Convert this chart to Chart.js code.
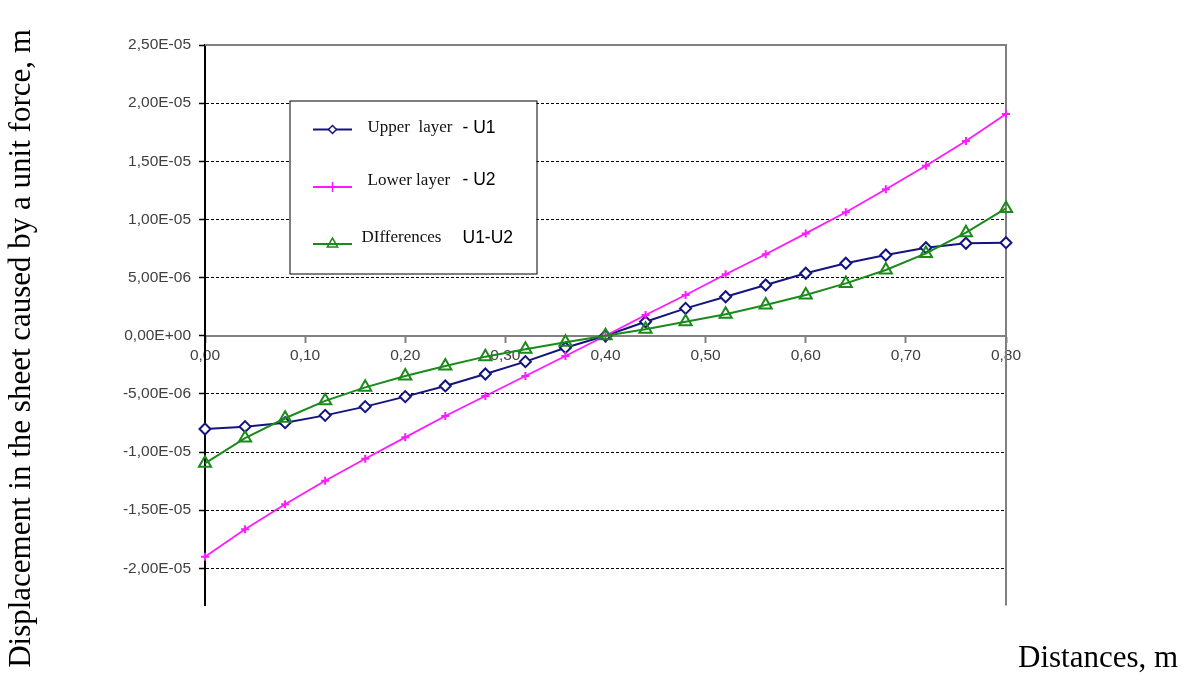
<!DOCTYPE html>
<html>
<head>
<meta charset="utf-8">
<title>Displacement of the sheet layers</title>
<script src="https://cdn.jsdelivr.net/npm/chart.js@4.4.1/dist/chart.umd.min.js"></script>
<style>
  html, body { margin: 0; padding: 0; background: #ffffff; }
  #wrap { width: 1187px; height: 686px; }
</style>
</head>
<body>
<div id="wrap"><canvas id="chart" width="1187" height="686"></canvas></div>
<script>
// Positions along the sheet, m
const distances = [0.00, 0.04, 0.08, 0.12, 0.16, 0.20, 0.24, 0.28, 0.32, 0.36, 0.40,
                   0.44, 0.48, 0.52, 0.56, 0.60, 0.64, 0.68, 0.72, 0.76, 0.80];

// Displacement caused by a unit force, m
const upperLayerU1 = [-8.02e-6, -7.82e-6, -7.48e-6, -6.85e-6, -6.10e-6, -5.24e-6, -4.32e-6,
                      -3.29e-6, -2.23e-6, -1.03e-6, 0, 1.20e-6, 2.35e-6, 3.35e-6, 4.36e-6,
                      5.37e-6, 6.23e-6, 6.94e-6, 7.57e-6, 7.95e-6, 8.00e-6];
const lowerLayerU2 = [-1.900e-5, -1.665e-5, -1.450e-5, -1.247e-5, -1.058e-5, -8.74e-6, -6.90e-6,
                      -5.19e-6, -3.47e-6, -1.75e-6, 0, 1.78e-6, 3.50e-6, 5.28e-6, 7.00e-6,
                      8.80e-6, 1.061e-5, 1.259e-5, 1.462e-5, 1.674e-5, 1.906e-5];
const differencesU1U2 = [-1.097e-5, -8.80e-6, -7.10e-6, -5.60e-6, -4.44e-6, -3.47e-6, -2.60e-6,
                         -1.80e-6, -1.17e-6, -5.7e-7, 0, 5.5e-7, 1.20e-6, 1.84e-6, 2.64e-6,
                         3.50e-6, 4.50e-6, 5.65e-6, 7.08e-6, 8.86e-6, 1.095e-5];

// Axis ticks
const yTickValues = [2.5e-5, 2.0e-5, 1.5e-5, 1.0e-5, 5.0e-6, 0, -5.0e-6, -1.0e-5, -1.5e-5, -2.0e-5];
const xTickStep = 0.1;

// Legend wording (serif part, sans part)
const seriesNames = [
  ['Upper  layer', '- U1'],
  ['Lower layer', '- U2'],
  ['DIfferences', 'U1-U2']
];
const yAxisTitle = 'Displacement in the sheet caused by a unit force, m';
const xAxisTitle = 'Distances, m';

const SERIF = '"Liberation Serif", "Times New Roman", serif';
const SANS = '"Liberation Sans", Arial, sans-serif';

function toPoints(values) {
  return distances.map((d, i) => ({ x: d, y: values[i] }));
}

// "2,50E-05" style numbers
function sciComma(v) {
  if (Math.abs(v) < 1e-15) return '0,00E+00';
  const parts = v.toExponential(2).split('e');
  const e = parseInt(parts[1], 10);
  return parts[0].replace('.', ',') + 'E' + (e < 0 ? '-' : '+') + String(Math.abs(e)).padStart(2, '0');
}

// Grey frame along the top and right side of the plot
const framePlugin = {
  id: 'frame',
  beforeDatasetsDraw(chart) {
    const { ctx, chartArea: a } = chart;
    ctx.save();
    ctx.strokeStyle = '#808080';
    ctx.lineWidth = 2;
    ctx.beginPath();
    ctx.moveTo(a.left, a.top);
    ctx.lineTo(a.right, a.top);
    ctx.lineTo(a.right, a.bottom);
    ctx.stroke();
    ctx.restore();
  }
};

// Boxed legend inside the plot and the two axis titles
const annotationPlugin = {
  id: 'boxedLegend',
  afterDatasetsDraw(chart, args, opts) {
    const { ctx, chartArea: a } = chart;
    const L = opts.layout;
    const bx = a.left + L.dx, by = a.top + L.dy;
    ctx.save();
    ctx.fillStyle = '#ffffff';
    ctx.fillRect(bx, by, L.w, L.h);
    ctx.strokeStyle = '#000000';
    ctx.lineWidth = 1;
    ctx.strokeRect(bx + 0.5, by + 0.5, L.w, L.h);

    chart.data.datasets.forEach((ds, i) => {
      const row = L.rows[i];
      const ly = by + row.line;
      const x1 = bx + L.lineX1, x2 = bx + L.lineX2;
      ctx.strokeStyle = ds.borderColor;
      ctx.lineWidth = 2;
      ctx.beginPath();
      ctx.moveTo(x1, ly);
      ctx.lineTo(x2, ly);
      ctx.stroke();
      ctx.fillStyle = ds.pointBackgroundColor;
      ctx.strokeStyle = ds.borderColor;
      ctx.lineWidth = 1.5;
      Chart.helpers.drawPoint(ctx, {
        pointStyle: ds.pointStyle, radius: row.marker, rotation: 0, borderWidth: 1.5
      }, (x1 + x2) / 2, ly);

      ctx.fillStyle = '#111111';
      ctx.textBaseline = 'middle';
      ctx.textAlign = 'left';
      ctx.font = '17px ' + SERIF;
      ctx.fillText(seriesNames[i][0], bx + row.text1, by + row.text);
      ctx.font = '17.5px ' + SANS;
      ctx.fillStyle = '#000000';
      ctx.fillText(seriesNames[i][1], bx + L.text2, by + row.text);
    });
    ctx.restore();
  },
  afterDraw(chart, args, opts) {
    const { ctx } = chart;
    ctx.save();
    ctx.fillStyle = '#000000';
    ctx.font = '31px ' + SERIF;
    ctx.textBaseline = 'alphabetic';
    // vertical axis title
    ctx.save();
    ctx.translate(opts.yTitle.x, opts.yTitle.y);
    ctx.rotate(-Math.PI / 2);
    ctx.textAlign = 'center';
    ctx.fillText(yAxisTitle, 0, 0);
    ctx.restore();
    // horizontal axis title
    ctx.textAlign = 'left';
    ctx.fillText(xAxisTitle, opts.xTitle.x, opts.xTitle.y);
    ctx.restore();
  }
};

const yTop = yTickValues[0];

new Chart(document.getElementById('chart'), {
  type: 'line',
  data: {
    datasets: [
      {
        label: seriesNames[0].join(' '),
        data: toPoints(upperLayerU1),
        borderColor: '#14147e',
        borderWidth: 2,
        pointStyle: 'rectRot',
        pointRadius: 5.5,
        pointBorderWidth: 2,
        pointBackgroundColor: '#ffffff',
        pointBorderColor: '#14147e',
        clip: false,
        order: 3
      },
      {
        label: seriesNames[1].join(' '),
        data: toPoints(lowerLayerU2),
        borderColor: '#ff1aff',
        borderWidth: 1.8,
        pointStyle: 'cross',
        pointRadius: 4,
        pointBorderWidth: 2,
        pointBackgroundColor: '#ff1aff',
        pointBorderColor: '#ff1aff',
        clip: false,
        order: 2
      },
      {
        label: seriesNames[2].join(' '),
        data: toPoints(differencesU1U2),
        borderColor: '#1a8a1a',
        borderWidth: 2,
        pointStyle: 'triangle',
        pointRadius: 7,
        pointBorderWidth: 2,
        pointBackgroundColor: 'rgba(255,255,255,0)',
        pointBorderColor: '#1a8a1a',
        clip: false,
        order: 1
      }
    ]
  },
  options: {
    responsive: false,
    animation: false,
    devicePixelRatio: 1,
    layout: { padding: { left: 0, top: 45, right: 181, bottom: 80.5 } },
    plugins: {
      legend: { display: false },
      tooltip: { enabled: false },
      boxedLegend: {
        layout: {
          dx: 84.5, dy: 55.5, w: 247, h: 173,
          lineX1: 23.5, lineX2: 62.5, text2: 173,
          rows: [
            { line: 29, text: 27.5, text1: 78, marker: 4 },
            { line: 86.5, text: 80, text1: 78, marker: 5 },
            { line: 143.5, text: 137.5, text1: 72, marker: 6 }
          ]
        },
        yTitle: { x: 30, y: 348.5 },
        xTitle: { x: 1018, y: 667 }
      }
    },
    scales: {
      x: {
        type: 'linear',
        position: { y: 0 },
        min: 0,
        max: 0.8,
        ticks: {
          stepSize: xTickStep,
          padding: 5,
          color: '#404040',
          font: { family: SANS, size: 15.5 },
          callback: (v) => v.toFixed(2).replace('.', ',')
        },
        grid: {
          drawOnChartArea: false,
          drawTicks: true,
          tickLength: 6,
          tickWidth: 2,
          tickColor: '#808080'
        },
        border: { display: true, color: '#808080', width: 2 }
      },
      y: {
        type: 'linear',
        position: 'left',
        min: -2.32e-5,
        max: yTop,
        afterFit(scale) { scale.width = 205; },
        afterBuildTicks(scale) { scale.ticks = yTickValues.map(v => ({ value: v })); },
        ticks: {
          padding: 8,
          color: '#404040',
          font: { family: SANS, size: 15.5 },
          callback: (v) => sciComma(v)
        },
        grid: {
          drawOnChartArea: true,
          drawTicks: true,
          tickLength: 6,
          tickWidth: 1.5,
          tickColor: '#000000',
          lineWidth: 1,
          color: (c) => (c.tick && (Math.abs(c.tick.value) < 1e-15 || c.tick.value === yTop)) ? 'rgba(0,0,0,0)' : '#000000'
        },
        border: { display: true, color: '#000000', width: 2, dash: [3, 2] }
      }
    }
  },
  plugins: [framePlugin, annotationPlugin]
});
</script>
</body>
</html>
